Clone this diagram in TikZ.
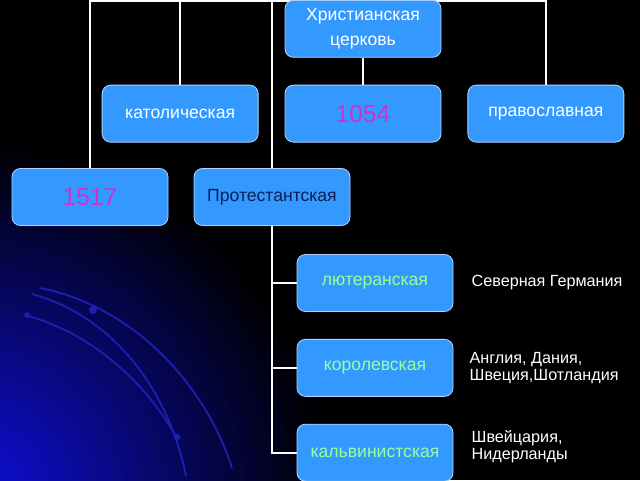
\documentclass[tikz,border=0pt]{standalone}
\usepackage{fontspec}
\setmainfont{Liberation Sans}
\usetikzlibrary{positioning}
\usetikzlibrary{backgrounds}
\definecolor{boxblue}{RGB}{51,153,255}
\definecolor{boxedge}{RGB}{175,210,255}
\definecolor{yearpink}{RGB}{204,51,204}
\definecolor{branchgreen}{RGB}{153,255,153}
\definecolor{protnavy}{RGB}{10,30,90}
\definecolor{glowblue}{RGB}{15,15,225}
\definecolor{arcblue}{RGB}{30,30,175}
\tikzstyle{branch} = [rectangle, draw=boxedge, line width=0.6pt, fill=boxblue, rounded corners=6pt, text centered, minimum width=3.9cm, minimum height=1.425cm, inner sep=2pt, text=white, font=\fontsize{12.5}{18}\selectfont]
\tikzstyle{year} = [branch, text=yearpink, font=\fontsize{17.5}{20}\selectfont]
\tikzstyle{sub} = [branch, text=branchgreen]
\tikzstyle{place} = [inner sep=0pt, align=left, text=white, font=\fontsize{11.5}{12.5}\selectfont]
\tikzstyle{line} = [draw, white, line width=1.2pt]

\begin{document}
\begin{tikzpicture}[align=center, node distance=0.675cm]
  \useasboundingbox (0,0) rectangle (16,12);
  % dark slide background with the blue glow
  \begin{scope}[on background layer]
    \fill [black] (0,0) rectangle (16,12);
    \clip (0,0) rectangle (16,12);
    \shade [inner color=glowblue, outer color=black] (-0.8,-0.5) circle (9cm);
    \draw [arcblue, line width=1.3pt] (1.0,4.8) .. controls (3.5,4.3) and (5.2,2.2) .. (5.8,0.3);
    \draw [arcblue, line width=1.3pt] (0.8,4.65) .. controls (2.8,4.1) and (4.2,2.3) .. (4.65,0.1);
    \draw [arcblue, line width=1.3pt] (0.7,4.1) .. controls (2.5,3.6) and (3.8,2.2) .. (4.45,1.0);
    \fill [arcblue] (2.325,4.25) circle (0.1);
    \fill [arcblue] (0.675,4.125) circle (0.07);
    \fill [arcblue] (4.425,1.075) circle (0.08);
  \end{scope}

  \node [branch] (christ) at (9.075,11.28) {Христианская\\церковь};
  \node [year, below=of christ] (y1054) {1054};
  \node [branch, left=0.65cm of y1054] (cath) {католическая};
  \node [branch, right=0.65cm of y1054] (orth) {православная};
  \node [year] (y1517) at (2.25,7.075) {1517};
  \node [branch, text=protnavy] (prot) at (6.8,7.075) {Протестантская};
  \node [sub] (luth) at (9.375,4.925) {лютеранская};
  \node [sub, below=of luth] (royal) {королевская};
  \node [sub, below=of royal] (calv) {кальвинистская};
  \node [place, right=0.45cm of luth] (north) {Северная Германия};
  \node [place, right=0.4cm of royal] (angl) {Англия, Дания,\\Швеция,Шотландия};
  \node [place, right=0.45cm of calv, yshift=0.15cm] (swiss) {Швейцария,\\Нидерланды};

  \coordinate (top) at (0,11.975);
  \begin{scope}[on background layer]
    \path [line] (y1517) -- (y1517 |- top) -- (orth |- top) -- (orth);
    \path [line] (cath) -- (cath |- top);
    \path [line] (prot) -- (prot |- top);
    \path [line] (christ) -- (y1054);
    \path [line] (prot) |- (luth);
    \path [line] (prot) |- (royal);
    \path [line] (prot) |- (calv);
  \end{scope}
\end{tikzpicture}
\end{document}
